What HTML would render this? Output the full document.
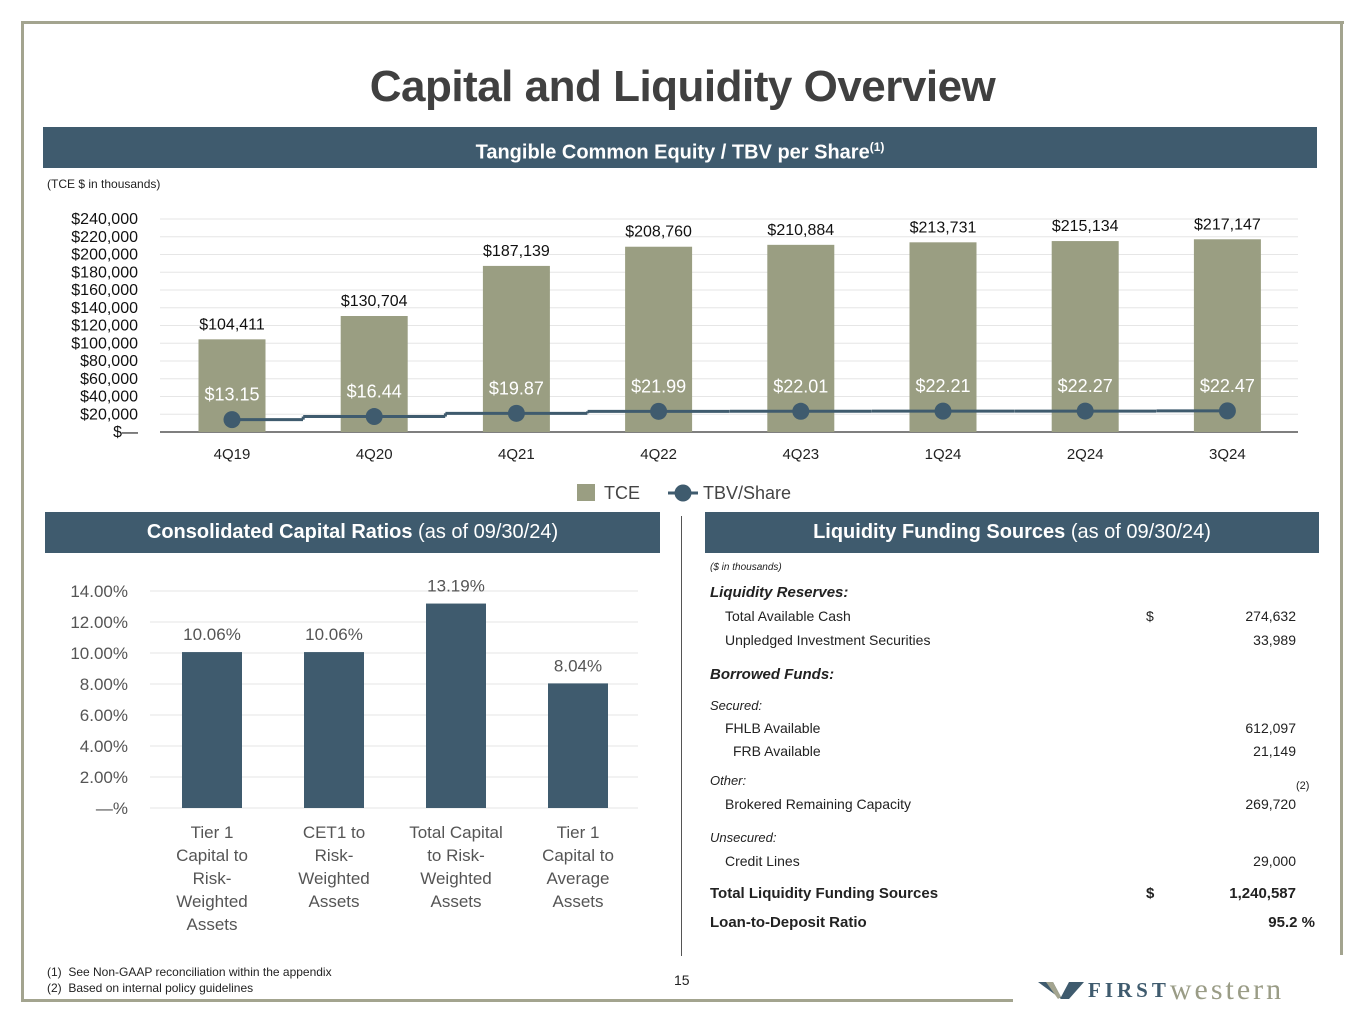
<!DOCTYPE html>
<html><head><meta charset="utf-8">
<style>
body{margin:0;width:1365px;height:1024px;background:#fff;position:relative;overflow:hidden;font-family:"Liberation Sans",sans-serif;color:#222}
.abs{position:absolute}
.hdr{position:absolute;background:#3f5b6e;color:#fff;font-weight:bold;font-size:20px;text-align:center;box-sizing:border-box}
.t{position:absolute;font-size:14px;white-space:nowrap}
.r{text-align:right}
.bi{font-weight:bold;font-style:italic;font-size:15px}
.i{font-style:italic;font-size:13px}
</style></head><body>
<div class="abs" style="left:22px;top:21px;width:1322px;height:3px;background:#a3a48f"></div>
<div class="abs" style="left:21px;top:21px;width:3px;height:981px;background:#a3a48f"></div>
<div class="abs" style="left:1340px;top:21px;width:3px;height:934px;background:#a3a48f"></div>
<div class="abs" style="left:21px;top:999px;width:992px;height:3px;background:#a3a48f"></div>

<div class="abs" style="left:0;width:1365px;top:62px;text-align:center;font-size:44px;font-weight:bold;color:#404040;letter-spacing:-0.5px">Capital and Liquidity Overview</div>
<div class="hdr" style="left:43px;top:127px;width:1274px;height:41px;line-height:41px">Tangible Common Equity / TBV per Share<sup style="font-size:12px">(1)</sup></div>
<div class="t" style="left:47px;top:177px;font-size:12px">(TCE $ in thousands)</div>

<svg class="abs" style="left:0;top:0" width="1365" height="1024" id="top"></svg>

<div class="hdr" style="left:45px;top:512px;width:615px;height:41px;line-height:41px">Consolidated Capital Ratios <span style="font-weight:normal">(as of 09/30/24)</span></div>
<div class="hdr" style="left:705px;top:512px;width:614px;height:41px;line-height:41px">Liquidity Funding Sources <span style="font-weight:normal">(as of 09/30/24)</span></div>
<div class="abs" style="left:681px;top:516px;width:1px;height:440px;background:#555"></div>

<div>
<div class="t i" style="left:710px;top:562px;font-size:10px">($ in thousands)</div>
<div class="t bi" style="left:710px;top:584px">Liquidity Reserves:</div>
<div class="t" style="left:725px;top:608px">Total Available Cash</div><div class="t" style="left:1146px;top:608px">$</div><div class="t r" style="left:1196px;width:100px;top:608px">274,632</div>
<div class="t" style="left:725px;top:632px">Unpledged Investment Securities</div><div class="t r" style="left:1196px;width:100px;top:632px">33,989</div>
<div class="t bi" style="left:710px;top:666px">Borrowed Funds:</div>
<div class="t i" style="left:710px;top:698px">Secured:</div>
<div class="t" style="left:725px;top:720px">FHLB Available</div><div class="t r" style="left:1196px;width:100px;top:720px">612,097</div>
<div class="t" style="left:733px;top:743px">FRB Available</div><div class="t r" style="left:1196px;width:100px;top:743px">21,149</div>
<div class="t i" style="left:710px;top:773px">Other:</div><div class="t" style="left:1296px;top:780px;font-size:11px">(2)</div>
<div class="t" style="left:725px;top:796px">Brokered Remaining Capacity</div><div class="t r" style="left:1196px;width:100px;top:796px">269,720</div>
<div class="t i" style="left:710px;top:830px">Unsecured:</div>
<div class="t" style="left:725px;top:853px">Credit Lines</div><div class="t r" style="left:1196px;width:100px;top:853px">29,000</div>
<div class="t" style="left:710px;top:885px;font-weight:bold;font-size:15px">Total Liquidity Funding Sources</div><div class="t" style="left:1146px;top:885px;font-weight:bold;font-size:15px">$</div><div class="t r" style="left:1166px;width:130px;top:885px;font-weight:bold;font-size:15px">1,240,587</div>
<div class="t" style="left:710px;top:914px;font-weight:bold;font-size:15px">Loan-to-Deposit Ratio</div><div class="t r" style="left:1166px;width:149px;top:914px;font-weight:bold;font-size:15px">95.2 %</div>
</div>

<div class="t" style="left:47px;top:964px;font-size:12px;line-height:16px">(1)&nbsp; See Non-GAAP reconciliation within the appendix<br>(2)&nbsp; Based on internal policy guidelines</div>
<div class="t" style="left:674px;top:972px">15</div>
<div class="abs" style="left:1038px;top:974px;white-space:nowrap;line-height:32px">
<svg width="46" height="22" style="vertical-align:middle"><path d="M0 3h15l8 15 8-15h15l-15 17h-8z" fill="#3f5b6e"/><path d="M8 3h7l8 15-3 2z" fill="#a3a48f"/></svg><span style="font-family:'Liberation Serif',serif;font-size:21px;font-weight:bold;color:#3f5b6e;letter-spacing:4px;vertical-align:middle;margin-left:4px">FIRST</span><span style="font-family:'Liberation Serif',serif;font-size:30px;color:#9a9c86;letter-spacing:3px;vertical-align:middle">western</span></div>

<script>
const quarters=["4Q19","4Q20","4Q21","4Q22","4Q23","1Q24","2Q24","3Q24"];
const tceValues=[104411,130704,187139,208760,210884,213731,215134,217147];
const tbvValues=[13.15,16.44,19.87,21.99,22.01,22.21,22.27,22.47];
const tceTicks=[0,20000,40000,60000,80000,100000,120000,140000,160000,180000,200000,220000,240000];
const ratioCats=[["Tier 1","Capital to","Risk-","Weighted","Assets"],["CET1 to","Risk-","Weighted","Assets"],["Total Capital","to Risk-","Weighted","Assets"],["Tier 1","Capital to","Average","Assets"]];
const ratioValues=[10.06,10.06,13.19,8.04];
const ratioTicks=[0,2,4,6,8,10,12,14];

const NS="http://www.w3.org/2000/svg";
const svg=document.getElementById('top');
function mk(tag,attrs,text){const e=document.createElementNS(NS,tag);for(const k in attrs)e.setAttribute(k,attrs[k]);if(text!==undefined)e.textContent=text;svg.appendChild(e);return e;}
const fmt=n=>"$"+n.toLocaleString("en-US");
const y1=v=>432-v*(213/240000), x1=i=>232+i*142.2;
const y2=v=>432-v*0.94;
tceTicks.forEach(t=>{
  const g=mk('line',{x1:160,x2:1298,y1:y1(t),y2:y1(t),stroke:t===0?'#555':'#e6e6e6','stroke-width':t===0?1.5:1});
  
  const l=mk('text',{x:138,y:y1(t)+5,'text-anchor':'end','font-size':16,fill:'#111'},t===0?"$—":fmt(t));
  
});
tceValues.forEach((v,i)=>{
  const b=mk('rect',{x:x1(i)-33.5,y:y1(v),width:67,height:432-y1(v),fill:'#9a9e82'});
  
  const l=mk('text',{x:x1(i),y:y1(v)-10,'text-anchor':'middle','font-size':16,fill:'#111'},fmt(v));
  
  const q=mk('text',{x:x1(i),y:459,'text-anchor':'middle','font-size':15,fill:'#222'},quarters[i]);
  
});
tbvValues.forEach((v,i)=>{
  const xa=i===0?x1(0):x1(i)-71, xb=i===tbvValues.length-1?x1(i):x1(i)+71;
  const s=mk('line',{x1:xa,x2:xb,y1:y2(v),y2:y2(v),stroke:'#3f5b6e','stroke-width':3});
  
  if(i>0){const c=mk('line',{x1:xa,x2:xa,y1:y2(tbvValues[i-1]),y2:y2(v),stroke:'#3f5b6e','stroke-width':3});}
});
tbvValues.forEach((v,i)=>{
  const p=mk('circle',{cx:x1(i),cy:y2(v),r:8.5,fill:'#3f5b6e'});
  
  const l=mk('text',{x:x1(i),y:y2(v)-19,'text-anchor':'middle','font-size':18,fill:'#fff'},"$"+v.toFixed(2));
  
});
let e=mk('rect',{x:577,y:484,width:18,height:17,fill:'#9a9e82'});
e=mk('text',{x:604,y:499,'font-size':18,fill:'#444'},"TCE");
e=mk('line',{x1:668,x2:698,y1:493,y2:493,stroke:'#3f5b6e','stroke-width':3});
e=mk('circle',{cx:683,cy:493,r:8.5,fill:'#3f5b6e'});
e=mk('text',{x:703,y:499,'font-size':18,fill:'#444'},"TBV/Share");
const y3=v=>808-v*(217/14), x3=i=>212+i*122;
ratioTicks.forEach(t=>{
  const g=mk('line',{x1:150,x2:638,y1:y3(t),y2:y3(t),stroke:'#e4e4e4','stroke-width':1});
  
  const l=mk('text',{x:128,y:y3(t)+6,'text-anchor':'end','font-size':17,fill:'#555'},t===0?"—%":t.toFixed(2)+"%");
  
});
ratioValues.forEach((v,i)=>{
  const b=mk('rect',{x:x3(i)-30,y:y3(v),width:60,height:808-y3(v),fill:'#3f5b6e'});
  
  const l=mk('text',{x:x3(i),y:y3(v)-12,'text-anchor':'middle','font-size':17,fill:'#555'},v.toFixed(2)+"%");
  
  ratioCats[i].forEach((ln,j)=>{
    const c=mk('text',{x:x3(i),y:838+j*23,'text-anchor':'middle','font-size':17,fill:'#555'},ln);
    
  });
});
</script>
</body></html>
